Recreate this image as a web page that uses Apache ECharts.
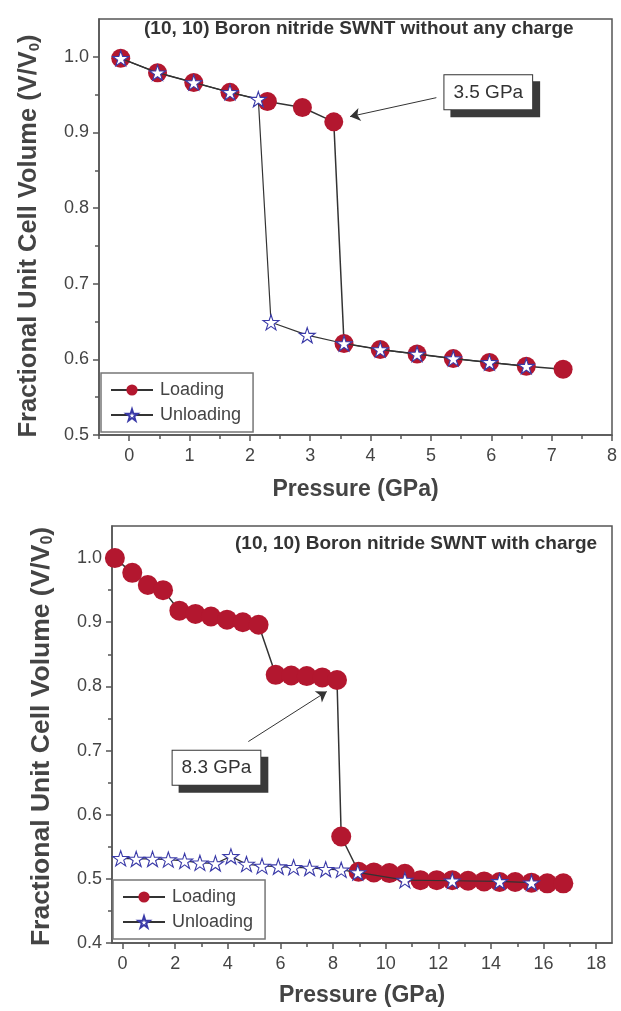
<!DOCTYPE html>
<html>
<head>
<meta charset="utf-8">
<script src="https://cdn.jsdelivr.net/npm/echarts@6/dist/echarts.min.js"></script>
<style>html,body{margin:0;padding:0;background:#fff;}#c{width:621px;height:1011px;}</style>
</head>
<body>
<div id="c"></div>
<script>
// ---------- Data ----------
// Top panel: (10,10) BN SWNT without any charge
const topLoadP   = [-0.14, 0.47, 1.07, 1.67, 2.29, 2.87, 3.39, 3.56, 4.16, 4.77, 5.37, 5.97, 6.58, 7.19];
const topLoadV   = [0.998, 0.979, 0.966, 0.953, 0.941, 0.933, 0.914, 0.621, 0.613, 0.607, 0.601, 0.596, 0.591, 0.587];
const topUnloadP = [6.58, 5.97, 5.37, 4.77, 4.16, 3.56, 2.95, 2.35, 2.14, 1.67, 1.07, 0.47, -0.14];
const topUnloadV = [0.591, 0.596, 0.601, 0.607, 0.613, 0.621, 0.632, 0.649, 0.944, 0.953, 0.966, 0.979, 0.998];

// Bottom panel: (10,10) BN SWNT with charge
const botLoadP   = [-0.29, 0.37, 0.96, 1.54, 2.16, 2.77, 3.36, 3.97, 4.57, 5.17, 5.82, 6.41, 7.00, 7.59, 8.15, 8.31, 8.97, 9.55, 10.14, 10.73, 11.32, 11.94, 12.53, 13.13, 13.74, 14.33, 14.92, 15.54, 16.14, 16.75];
const botLoadV   = [1.000, 0.977, 0.958, 0.950, 0.918, 0.913, 0.909, 0.904, 0.900, 0.896, 0.818, 0.817, 0.816, 0.814, 0.810, 0.566, 0.511, 0.510, 0.509, 0.508, 0.498, 0.498, 0.498, 0.497, 0.496, 0.495, 0.495, 0.494, 0.493, 0.493];
const botUnloadP = [15.54, 14.33, 12.53, 10.73, 8.94, 8.31, 7.72, 7.11, 6.50, 5.92, 5.30, 4.71, 4.12, 3.53, 2.94, 2.36, 1.74, 1.14, 0.52, -0.07];
const botUnloadV = [0.494, 0.496, 0.497, 0.498, 0.510, 0.514, 0.515, 0.517, 0.518, 0.519, 0.520, 0.523, 0.535, 0.524, 0.525, 0.528, 0.530, 0.531, 0.531, 0.532];

// Tick labels
const topXTicks = [0, 1, 2, 3, 4, 5, 6, 7, 8];
const topXMinor = [-0.5, 0.5, 1.5, 2.5, 3.5, 4.5, 5.5, 6.5, 7.5];
const topYTicks = [0.5, 0.6, 0.7, 0.8, 0.9, 1.0];
const topYMinor = [0.55, 0.65, 0.75, 0.85, 0.95];
const botXTicks = [0, 2, 4, 6, 8, 10, 12, 14, 16, 18];
const botXMinor = [1, 3, 5, 7, 9, 11, 13, 15, 17];
const botYTicks = [0.4, 0.5, 0.6, 0.7, 0.8, 0.9, 1.0];
const botYMinor = [0.45, 0.55, 0.65, 0.75, 0.85, 0.95];

// Texts
const topTitle = '(10, 10) Boron nitride SWNT without any charge';
const botTitle = '(10, 10) Boron nitride SWNT with charge';
const xName = 'Pressure (GPa)';
const yName = 'Fractional Unit Cell Volume (V/V{sub|0})';
const seriesNames = ['Loading', 'Unloading'];

// Annotations (data coordinates)
const topNote = { text: '3.5 GPa', box: [5.95, 0.953], from: [5.09, 0.946], to: [3.66, 0.921] };
const botNote = { text: '8.3 GPa', box: [3.57, 0.673], from: [4.78, 0.714], to: [7.76, 0.792] };

// ---------- Chart ----------
const zip = (a, b) => a.map((v, i) => [v, b[i]]);
const STAR = 'path://M50,2 L61.2,36.2 L97.5,36.5 L68.2,57.8 L79.4,92 L50,71 L20.6,92 L31.8,57.8 L2.5,36.5 L38.8,36.2 Z';
const AX = '#555';
const TXT = '#444';
const RED = '#b3172f';
const BLUE = '#3a3aa8';
const FONT = 'Liberation Sans, Arial, sans-serif';

function mainX(grid, min, max, ticks, nameGap) {
  return {
    type: 'value', gridIndex: grid, position: 'bottom', min, max,
    name: xName, nameLocation: 'middle', nameGap,
    nameTextStyle: { fontSize: 23, fontWeight: 'bold', color: TXT, fontFamily: FONT },
    axisLine: { show: true, onZero: false, lineStyle: { color: AX, width: 1.5 } },
    axisTick: { show: true, length: 6, customValues: ticks, lineStyle: { color: AX, width: 1.5 } },
    axisLabel: { customValues: ticks, fontSize: 18, color: TXT, margin: 12, fontFamily: FONT },
    splitLine: { show: false }
  };
}
function minorX(grid, min, max, ticks) {
  return {
    type: 'value', gridIndex: grid, position: 'bottom', min, max,
    axisLine: { show: false, onZero: false },
    axisTick: { show: true, length: 4, customValues: ticks, lineStyle: { color: AX, width: 1.5 } },
    axisLabel: { show: false }, splitLine: { show: false }
  };
}
function mainY(grid, min, max, ticks, nameGap, shift, size) {
  return {
    type: 'value', gridIndex: grid, position: 'left', min, max,
    name: yName, nameLocation: 'middle', nameGap,
    nameTextStyle: {
      fontSize: size, fontWeight: 'bold', color: TXT, fontFamily: FONT, padding: [0, shift, 0, 0],
      rich: { sub: { fontSize: Math.round(size * 0.6), fontWeight: 'bold', color: TXT, fontFamily: FONT, padding: [12, 0, 0, 0] } }
    },
    axisLine: { show: true, onZero: false, lineStyle: { color: AX, width: 1.5 } },
    axisTick: { show: true, length: 6, customValues: ticks, lineStyle: { color: AX, width: 1.5 } },
    axisLabel: { customValues: ticks, fontSize: 18, color: TXT, margin: 10, fontFamily: FONT,
                 formatter: v => v.toFixed(1) },
    splitLine: { show: false }
  };
}
function minorY(grid, min, max, ticks) {
  return {
    type: 'value', gridIndex: grid, position: 'left', min, max,
    axisLine: { show: false, onZero: false },
    axisTick: { show: true, length: 4, customValues: ticks, lineStyle: { color: AX, width: 1.5 } },
    axisLabel: { show: false }, splitLine: { show: false }
  };
}
function noteMarks(note) {
  return {
    markPoint: {
      silent: true, symbol: 'rect', symbolSize: 1, itemStyle: { color: 'rgba(0,0,0,0)' },
      data: [{ coord: note.box }],
      label: {
        show: true, position: 'inside', formatter: note.text, fontSize: 19, color: '#333', fontFamily: FONT,
        backgroundColor: '#fff', borderColor: '#333', borderWidth: 1, padding: [8, 9, 7, 9],
        shadowColor: '#3a3a3a', shadowOffsetX: 7, shadowOffsetY: 7, shadowBlur: 0
      }
    },
    markLine: {
      silent: true, symbol: ['none', 'arrow'], symbolSize: 10,
      lineStyle: { color: '#333', width: 1, type: 'solid' },
      label: { show: false },
      data: [[{ coord: note.from }, { coord: note.to }]]
    }
  };
}
function loadSeries(xi, data, size, note) {
  return Object.assign({
    name: seriesNames[0], type: 'line', xAxisIndex: xi, yAxisIndex: xi, data,
    symbol: 'circle', symbolSize: size, z: 2,
    itemStyle: { color: RED },
    lineStyle: { color: '#333', width: 1.5 }
  }, noteMarks(note));
}
function unloadSeries(xi, data, size) {
  return {
    name: seriesNames[1], type: 'line', xAxisIndex: xi, yAxisIndex: xi, data,
    symbol: STAR, symbolSize: size, symbolKeepAspect: true, z: 3,
    itemStyle: { color: '#fff', borderColor: BLUE, borderWidth: 1.1 },
    lineStyle: { color: '#333', width: 1.2 }
  };
}
function legendAt(left, top) {
  return {
    data: seriesNames, left, top, orient: 'vertical',
    backgroundColor: '#fff', borderColor: '#777', borderWidth: 1.5,
    padding: [8, 12, 8, 9], itemGap: 7, itemWidth: 42, itemHeight: 14,
    textStyle: { fontSize: 18, color: TXT, fontFamily: FONT, padding: [0, 0, 0, 2] }, selectedMode: false
  };
}

const option = {
  animation: false,
  textStyle: { fontFamily: FONT },
  title: [
    { text: topTitle, left: 144, top: 19, padding: 0,
      textStyle: { fontSize: 19, fontWeight: 'bold', color: '#333', fontFamily: FONT } },
    { text: botTitle, left: 235, top: 534, padding: 0,
      textStyle: { fontSize: 19, fontWeight: 'bold', color: '#333', fontFamily: FONT } }
  ],
  grid: [
    { left: 99, right: 9, top: 19, bottom: 576, show: true, borderColor: AX, borderWidth: 1.5 },
    { left: 112, right: 9, top: 526, bottom: 68, show: true, borderColor: AX, borderWidth: 1.5 }
  ],
  legend: [legendAt(101, 373), legendAt(113, 880)],
  xAxis: [
    mainX(0, -0.5, 8, topXTicks, 43), minorX(0, -0.5, 8, topXMinor),
    mainX(1, -0.4, 18.6, botXTicks, 41), minorX(1, -0.4, 18.6, botXMinor)
  ],
  yAxis: [
    mainY(0, 0.5, 1.05, topYTicks, 57, 18, 25.5), minorY(0, 0.5, 1.05, topYMinor),
    mainY(1, 0.4, 1.05, botYTicks, 56, 4, 26.5), minorY(1, 0.4, 1.05, botYMinor)
  ],
  series: [
    loadSeries(0, zip(topLoadP, topLoadV), 19, topNote),
    unloadSeries(0, zip(topUnloadP, topUnloadV), 16),
    loadSeries(2, zip(botLoadP, botLoadV), 20, botNote),
    unloadSeries(2, zip(botUnloadP, botUnloadV), 16)
  ]
};

const chart = echarts.init(document.getElementById('c'), null, { renderer: 'canvas' });
chart.setOption(option);
</script>
</body>
</html>
